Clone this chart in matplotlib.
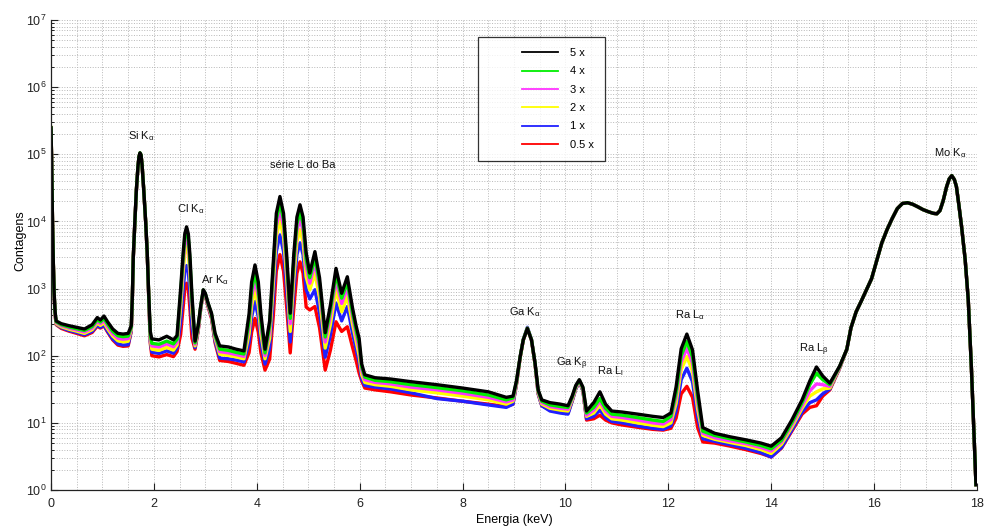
import matplotlib
matplotlib.use("Agg")
import matplotlib.pyplot as plt
from matplotlib.ticker import LogLocator, MultipleLocator, NullFormatter, LogFormatterMathtext
from matplotlib.legend_handler import HandlerLine2D
from matplotlib.lines import Line2D

plt.rcParams['font.family'] = ['Liberation Sans', 'DejaVu Sans']
plt.rcParams['mathtext.default'] = 'regular'

# ---------------- data ----------------
energy = [
    # 0 - 1.56 keV
    0.000, 0.010, 0.020, 0.030, 0.045, 0.060, 0.080, 0.100, 0.200, 0.350, 0.500,
    0.650, 0.800, 0.900, 0.960, 1.030, 1.100, 1.200, 1.300, 1.400, 1.500, 1.560,
    # Si K alpha
    1.580, 1.600, 1.630, 1.660, 1.690, 1.710, 1.730, 1.750, 1.770, 1.800, 1.840,
    1.870, 1.900, 1.930, 1.960,
    # Cl, Ar
    2.100, 2.250, 2.380, 2.450, 2.520, 2.570, 2.600, 2.635, 2.670, 2.700, 2.740,
    2.800, 2.860, 2.910, 2.960, 3.000, 3.050, 3.120, 3.190, 3.280, 3.450, 3.600, 3.750,
    # Ba L series
    3.850, 3.900, 3.965, 4.030, 4.080, 4.160, 4.250, 4.320, 4.380, 4.450, 4.520,
    4.580, 4.650, 4.720, 4.780, 4.840, 4.900, 4.960, 5.030, 5.130, 5.220, 5.330,
    5.430, 5.540, 5.650, 5.760, 5.860, 5.930, 5.990, 6.040, 6.100,
    # 6.3 - 10.9 keV (Ga K, Ra Ll)
    6.300, 6.600, 7.000, 7.500, 8.000, 8.500, 8.850, 8.980, 9.050, 9.120, 9.180,
    9.260, 9.340, 9.410, 9.470, 9.540, 9.700, 9.900, 10.050, 10.130, 10.200, 10.270,
    10.340, 10.410, 10.550, 10.670, 10.780, 10.900,
    # 11.1 - 15.33 keV (Ra La, Ra Lb)
    11.100, 11.400, 11.700, 11.900, 12.050, 12.150, 12.250, 12.360, 12.470, 12.570,
    12.670, 12.900, 13.200, 13.500, 13.800, 14.000, 14.200, 14.400, 14.600, 14.750,
    14.880, 15.000, 15.140, 15.330,
    # 15.47 - 18 keV (Mo K, common to all series)
    15.47, 15.55, 15.65, 15.75, 15.85, 15.95, 16.05, 16.15, 16.25, 16.35, 16.45,
    16.55, 16.65, 16.75, 16.85, 16.95, 17.05, 17.15, 17.22, 17.28, 17.34, 17.41,
    17.46, 17.51, 17.56, 17.60, 17.65, 17.70, 17.77, 17.83, 17.89, 17.94, 17.98,
]

mo_region = [125, 260, 450, 650, 950, 1400, 2600, 4800, 7500, 11000, 15500,
             18500, 19000, 18000, 16500, 15000, 14000, 13200, 13000, 14500, 20000, 33000,
             43000, 48000, 42000, 33000, 17000, 8400, 2700, 680, 69, 7, 1.2]

counts_5x = [
    250000, 100000, 30000, 9000, 2500, 900, 450, 330, 300, 280, 265, 250, 290, 370, 340, 390, 320, 250, 215, 210, 215, 280,
    700, 3000, 10000, 30000, 65000, 92000, 105000, 98000, 70000, 32000, 10000, 3500, 800, 230, 178,
    172, 195, 172, 200, 1000, 3500, 6500, 8300, 6500, 3200, 800, 165, 280, 550, 960, 850, 620, 430, 215, 140, 135, 125, 118,
    420, 1250, 2250, 1250, 420, 125, 330, 2450, 13200, 23500, 13200, 3300, 430, 3300, 11600, 17700, 11600, 3420, 1700, 3550, 1450, 220, 560, 2000, 850, 1500, 520, 280, 180, 75, 52,
    47, 45, 41, 37, 33, 29, 24, 25, 43, 97, 172, 255, 172, 77, 31, 22, 20, 19, 18, 25, 36, 44, 34, 15, 20, 29, 19, 15,
    14.5, 13.5, 12.5, 12, 14, 34, 127, 210, 122, 30, 8.5, 7.0, 6.2, 5.6, 5.0, 4.5, 6, 11, 22, 42, 68, 50, 39, 70,
] + mo_region

counts_4x = [
    245000, 98000, 29500, 8900, 2450, 880, 440, 320, 290, 268, 252, 238, 272, 345, 318, 360, 295, 230, 198, 192, 196, 265,
    690, 3000, 9900, 30000, 65000, 92000, 105000, 98000, 70000, 32000, 10000, 3480, 780, 205, 153,
    148, 165, 150, 175, 843, 3000, 5570, 7100, 5570, 2720, 683, 155, 270, 540, 950, 840, 610, 415, 200, 125, 120, 112, 106,
    330, 950, 1700, 950, 330, 110, 277, 1990, 10700, 19000, 10700, 2700, 360, 2630, 9210, 14000, 9210, 2720, 1450, 2900, 1200, 190, 470, 1650, 720, 1250, 440, 240, 150, 68, 48,
    43, 41, 37, 33.5, 30, 26, 22, 23.5, 42, 96, 172, 255, 172, 76, 30, 21, 18.5, 17.5, 17, 24, 35, 43, 33, 14, 17, 23, 16.5, 13.5,
    13, 12, 11, 10.5, 12.5, 28, 100, 162, 96, 24.5, 7.5, 6.5, 5.8, 5.2, 4.6, 4.1, 5.5, 10, 20, 37, 55, 44, 37, 69,
] + mo_region

counts_3x = [
    240000, 97000, 29000, 8800, 2400, 860, 430, 310, 280, 258, 242, 226, 258, 325, 300, 335, 272, 212, 182, 176, 180, 255,
    680, 2950, 9900, 29500, 64500, 91500, 104000, 97500, 69500, 31700, 9900, 3460, 770, 192, 140,
    135, 150, 136, 160, 693, 2420, 4480, 5700, 4480, 2200, 565, 148, 260, 530, 940, 830, 600, 405, 190, 115, 110, 104, 98,
    273, 762, 1350, 762, 273, 100, 232, 1600, 8450, 15000, 8450, 2150, 300, 2080, 7250, 11000, 7250, 2155, 1200, 2400, 1000, 160, 390, 1350, 600, 1030, 380, 205, 125, 60, 44,
    40, 38, 34, 31, 27.5, 24, 20.5, 22, 41, 95, 170, 252, 170, 75, 29, 20, 17.5, 16.5, 16, 23, 34, 42, 32, 13, 15.5, 21, 15, 12.5,
    12, 11, 10, 9.6, 11.2, 24, 80, 129, 77, 20, 7, 6.0, 5.4, 4.9, 4.3, 3.8, 5.2, 9.3, 18, 30, 38, 37, 35, 68,
] + mo_region

counts_2x = [
    250000, 100000, 30000, 9000, 2450, 850, 420, 300, 270, 248, 232, 215, 244, 305, 283, 310, 252, 196, 167, 161, 164, 245,
    670, 2950, 9800, 29500, 64500, 91500, 104000, 97500, 69500, 31700, 9900, 3440, 760, 178, 125,
    120, 133, 121, 145, 530, 1794, 3300, 4200, 3300, 1630, 436, 140, 250, 520, 930, 820, 590, 395, 180, 105, 101, 96, 90,
    212, 551, 960, 551, 212, 90, 182, 1140, 5920, 10500, 5920, 1530, 230, 1440, 4965, 7500, 4965, 1490, 950, 1700, 730, 130, 290, 950, 450, 760, 300, 165, 100, 52, 40,
    37, 35, 31, 28, 25, 22, 19, 21, 40, 95, 172, 258, 172, 75, 28, 19, 16.5, 15.5, 15, 22, 33, 42, 31, 12.5, 14, 18.5, 13.5, 11.5,
    11, 10, 9.2, 8.8, 10, 19.5, 62, 97, 59, 16, 6.5, 5.7, 5.1, 4.6, 4.0, 3.5, 4.8, 8.6, 16.5, 25, 29, 32, 33, 67,
] + mo_region

counts_1x = [
    230000, 95000, 28500, 8700, 2350, 830, 410, 295, 262, 238, 222, 205, 230, 285, 265, 285, 232, 178, 150, 144, 146, 235,
    660, 2900, 9800, 29000, 64000, 91000, 103000, 97000, 69000, 31400, 9800, 3420, 750, 165, 113,
    108, 118, 109, 130, 319, 967, 1740, 2200, 1740, 883, 271, 132, 240, 505, 910, 800, 570, 380, 165, 92, 90, 86, 81,
    158, 377, 640, 377, 158, 75, 130, 700, 3560, 6300, 3560, 960, 160, 940, 3195, 4800, 3195, 970, 700, 960, 440, 95, 200, 610, 330, 540, 220, 125, 80, 45, 36,
    34, 32, 28, 23, 21, 18.5, 17, 19, 39, 96, 175, 265, 175, 76, 27, 18, 15, 14, 13.5, 21, 32, 41, 30, 11.5, 12.5, 15.5, 12, 10.5,
    10, 9, 8.3, 8.0, 9, 15, 44, 65, 41, 12, 5.8, 5.3, 4.7, 4.2, 3.6, 3.1, 4.3, 7.8, 14.5, 20, 22, 27, 32, 66,
] + mo_region

counts_05x = [
    240000, 97000, 29000, 8800, 2400, 820, 400, 290, 255, 232, 215, 198, 222, 275, 258, 278, 225, 172, 144, 138, 140, 230,
    650, 2900, 9700, 29000, 64000, 91000, 103000, 97000, 69000, 31400, 9800, 3400, 740, 152, 100,
    96, 104, 97, 115, 207, 549, 957, 1200, 957, 505, 182, 125, 230, 490, 880, 770, 545, 360, 155, 85, 82, 77, 72,
    111, 224, 360, 224, 111, 61, 89, 380, 1820, 3200, 1820, 540, 110, 510, 1685, 2500, 1685, 530, 480, 540, 260, 61, 120, 320, 230, 270, 135, 85, 55, 42, 33,
    31, 29, 26, 23.5, 21, 19, 17.5, 19, 38, 94, 170, 255, 170, 74, 27, 18, 15.5, 14.5, 14, 21, 32, 41, 30, 11, 11.5, 13, 11, 10,
    9.3, 8.6, 8.0, 7.8, 8.3, 11.7, 27, 35, 24, 8.5, 5.2, 5.0, 4.5, 4.0, 3.5, 3.1, 4.2, 7.5, 13.5, 17, 18, 25, 31, 65,
] + mo_region

series_labels = ['5 x', '4 x', '3 x', '2 x', '1 x', '0.5 x']
series_colors = ['#000000', '#00ee00', '#ff33ff', '#ffff00', '#2020ff', '#ff0000']
series_values = [counts_5x, counts_4x, counts_3x, counts_2x, counts_1x, counts_05x]

peak_labels = ['Si K$_\\alpha$', 'Cl K$_\\alpha$', 'Ar K$_\\alpha$', 'série L do Ba',
               'Ga K$_\\alpha$', 'Ga K$_\\beta$', 'Ra L$_l$', 'Ra L$_\\alpha$',
               'Ra L$_\\beta$', 'Mo K$_\\alpha$']

for lab, vals in zip(series_labels, series_values):
    if len(vals) != len(energy):
        raise ValueError(f"{lab}: {len(vals)} values vs {len(energy)} energies")

# ---------------- figure ----------------
W, H = 988, 529
fig = plt.figure(figsize=(W / 100, H / 100), dpi=100)
ax = fig.add_axes([51 / W, 39 / H, 926 / W, 470 / H])

for lab, col, vals in reversed(list(zip(series_labels, series_colors, series_values))):
    ax.plot(energy, vals, color=col, lw=2.4, solid_joinstyle='round')

ax.set_yscale('log')
ax.set_xlim(0, 18)
ax.set_ylim(1, 1e7)
ax.xaxis.set_major_locator(MultipleLocator(2))
ax.xaxis.set_minor_locator(MultipleLocator(0.5))
ax.yaxis.set_major_locator(LogLocator(base=10, numticks=20))
ax.yaxis.set_minor_locator(LogLocator(base=10, subs=range(2, 10), numticks=200))
ax.yaxis.set_major_formatter(LogFormatterMathtext())
ax.yaxis.set_minor_formatter(NullFormatter())
ax.xaxis.get_offset_text().set_visible(False)
ax.yaxis.get_offset_text().set_visible(False)

ax.grid(True, which='both', linestyle=':', color='#b8b8b8', linewidth=0.7)
ax.set_axisbelow(True)
ax.tick_params(which='both', direction='in', top=False, right=False)
ax.tick_params(which='major', length=5, width=0.8, labelsize=9, colors='#222222')
ax.tick_params(axis='x', which='major', pad=6)
ax.tick_params(axis='y', which='major', pad=3)
ax.tick_params(axis='x', which='minor', length=0)
ax.tick_params(axis='y', which='minor', length=2.5, width=0.6)
for s in ('top', 'right'):
    ax.spines[s].set_visible(False)
for s in ('left', 'bottom'):
    ax.spines[s].set_linewidth(0.9)
    ax.spines[s].set_color('#222222')

ax.set_xlabel('Energia (keV)', fontsize=9)
ax.xaxis.set_label_coords(0.5, -0.052)
ax.set_ylabel('Contagens', fontsize=9)
ax.yaxis.set_label_coords(-0.027, 0.53)

# peak annotations (figure pixel positions: left x, baseline y)
label_pos = [(128, 139), (177, 212), (201, 283), (270, 168), (509, 315),
             (556, 366), (597, 374), (675, 318), (799, 352), (934, 156)]
for txt, (px, py) in zip(peak_labels, label_pos):
    fig.text(px / W, 1 - py / H, txt, fontsize=8, ha='left', va='baseline', color='#111111')

# legend
handles = [Line2D([], [], color=c, lw=1.3) for c in series_colors]
leg = fig.legend(handles, series_labels, loc='upper left',
                 bbox_to_anchor=(478 / W, 1 - 37 / H), bbox_transform=fig.transFigure,
                 fontsize=8, frameon=True, fancybox=False, borderpad=1.0,
                 labelspacing=0.75, handlelength=6.2, handletextpad=1.1,
                 borderaxespad=0.0,
                 handler_map={Line2D: HandlerLine2D(xpad=3.0)})
leg.get_frame().set_edgecolor('#000000')
leg.get_frame().set_linewidth(0.9)

fig.savefig('out.png', dpi=100)
